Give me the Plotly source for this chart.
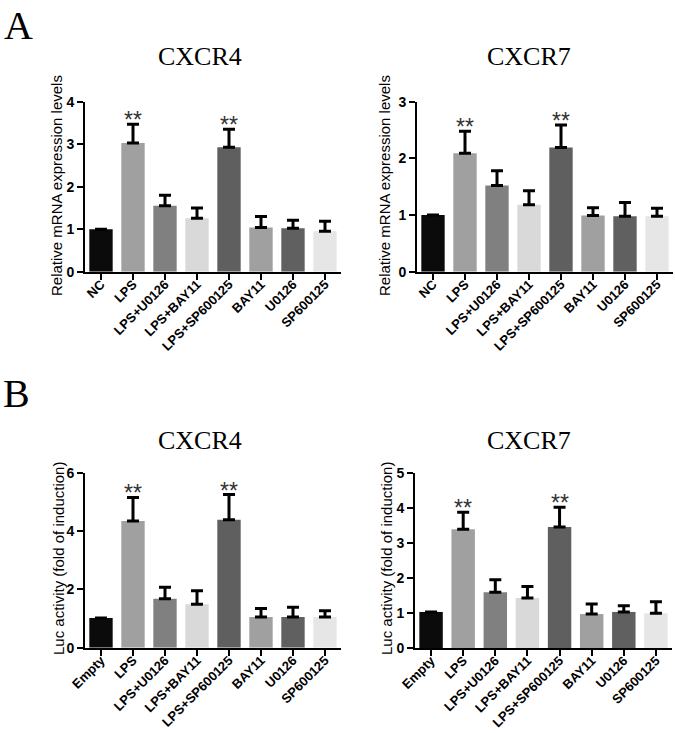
import plotly.graph_objects as go

W, H = 675, 733

cats_A = ["NC", "LPS", "LPS+U0126", "LPS+BAY11", "LPS+SP600125", "BAY11", "U0126", "SP600125"]
cats_B = ["Empty", "LPS", "LPS+U0126", "LPS+BAY11", "LPS+SP600125", "BAY11", "U0126", "SP600125"]

a_cxcr4_mean = [1.0, 3.03, 1.55, 1.26, 2.93, 1.04, 1.02, 0.95]
a_cxcr4_err = [0.0, 0.44, 0.25, 0.24, 0.42, 0.26, 0.19, 0.24]
a_cxcr7_mean = [1.0, 2.09, 1.52, 1.18, 2.19, 0.99, 0.98, 0.98]
a_cxcr7_err = [0.0, 0.39, 0.26, 0.25, 0.40, 0.14, 0.24, 0.14]
b_cxcr4_mean = [1.02, 4.34, 1.68, 1.49, 4.39, 1.05, 1.05, 1.05]
b_cxcr4_err = [0.0, 0.81, 0.39, 0.46, 0.86, 0.29, 0.34, 0.22]
b_cxcr7_mean = [1.03, 3.39, 1.59, 1.43, 3.46, 0.97, 1.03, 0.99]
b_cxcr7_err = [0.0, 0.49, 0.36, 0.33, 0.56, 0.29, 0.18, 0.33]

star_cats = ["LPS", "LPS+SP600125"]

bar_colors = ["#0b0b0b", "#a0a0a0", "#808080", "#d9d9d9", "#5f5f5f", "#a0a0a0", "#606060", "#e6e6e6"]

panels = [
    (cats_A, a_cxcr4_mean, a_cxcr4_err, 4, (85, 341), (101.7, 271.7), [-0.5, 7.5], "CXCR4", (200, 57),
     "Relative mRNA expression levels", (57, 186)),
    (cats_A, a_cxcr7_mean, a_cxcr7_err, 3, (417, 673), (101.7, 271.7), [-0.5, 7.5], "CXCR7", (529, 57),
     "Relative mRNA expression levels", (385, 186)),
    (cats_B, b_cxcr4_mean, b_cxcr4_err, 6, (85, 341), (472.7, 647.7), [-0.5, 7.5], "CXCR4", (200, 441),
     "Luc activity (fold of induction)", (58, 558)),
    (cats_B, b_cxcr7_mean, b_cxcr7_err, 5, (415, 672), (473.0, 648.0), [-0.5, 7.5], "CXCR7", (529, 440),
     "Luc activity (fold of induction)", (386, 559)),
]

def px(x):
    return x / W

def py(y):
    return 1 - y / H

fig = go.Figure()
annotations = []
layout_axes = {}

for i, (cats, mean, err, ymax, xp, yp, xr, title, tpos, ytitle, ytpos) in enumerate(panels):
    n = i + 1
    xa = "x" if n == 1 else f"x{n}"
    ya = "y" if n == 1 else f"y{n}"
    fig.add_trace(go.Bar(
        x=cats, y=mean, xaxis=xa, yaxis=ya,
        marker=dict(color=bar_colors, line=dict(width=0)),
        error_y=dict(type="data", symmetric=False, array=err, arrayminus=[0] * len(err),
                     color="#000000", thickness=3, width=6),
        showlegend=False, hoverinfo="x+y",
    ))
    xkey = "xaxis" if n == 1 else f"xaxis{n}"
    ykey = "yaxis" if n == 1 else f"yaxis{n}"
    layout_axes[xkey] = dict(
        domain=[px(xp[0]), px(xp[1])], anchor=ya, type="category", range=xr, automargin=False,
        showline=True, linecolor="#000000", linewidth=2, ticks="outside", ticklen=6,
        tickwidth=2, tickcolor="#000000", tickangle=-45, showgrid=False, zeroline=False,
        ticklabelstandoff=-8,
        tickfont=dict(family="Liberation Sans, Arial, sans-serif", size=13, color="#000000", weight="bold"),
    )
    layout_axes[ykey] = dict(
        domain=[py(yp[1]), py(yp[0])], anchor=xa, range=[0, ymax], dtick=1 if ymax != 6 else 2,
        automargin=False,
        showline=True, linecolor="#000000", linewidth=2, ticks="outside", ticklen=6,
        tickwidth=2, tickcolor="#000000", showgrid=False, zeroline=False,
        tickfont=dict(family="Liberation Sans, Arial, sans-serif", size=14, color="#000000", weight="bold"),
    )
    annotations.append(dict(
        text=title, xref="paper", yref="paper", x=px(tpos[0]), y=py(tpos[1]),
        xanchor="center", yanchor="middle", showarrow=False,
        font=dict(family="Liberation Serif, Times New Roman, serif", size=26, color="#000000"),
    ))
    annotations.append(dict(
        text=ytitle, xref="paper", yref="paper", x=px(ytpos[0]), y=py(ytpos[1]),
        xanchor="center", yanchor="middle", showarrow=False, textangle=-90,
        font=dict(family="Liberation Sans, Arial, sans-serif", size=15, color="#000000"),
    ))
    for c in star_cats:
        k = cats.index(c)
        annotations.append(dict(
            text="**", xref=xa, yref=ya, x=c, y=mean[k] + err[k],
            xanchor="center", yanchor="middle", yshift=4, showarrow=False,
            font=dict(family="Liberation Sans, Arial, sans-serif", size=23, color="#333333"),
        ))

annotations.append(dict(text="A", xref="paper", yref="paper", x=px(18), y=py(1), xanchor="center",
                        yanchor="top", showarrow=False,
                        font=dict(family="Liberation Serif, Times New Roman, serif", size=40, color="#000000")))
annotations.append(dict(text="B", xref="paper", yref="paper", x=px(16), y=py(369), xanchor="center",
                        yanchor="top", showarrow=False,
                        font=dict(family="Liberation Serif, Times New Roman, serif", size=40, color="#000000")))

fig.update_layout(
    width=W, height=H, margin=dict(l=0, r=0, t=0, b=0, autoexpand=False),
    paper_bgcolor="#ffffff", plot_bgcolor="#ffffff",
    bargap=0.27, annotations=annotations, **layout_axes,
)

fig.write_html("out.html", config={"displayModeBar": False},
               post_script="document.body.style.margin='0';document.body.style.padding='0';"
                           "document.body.style.overflow='hidden';")
